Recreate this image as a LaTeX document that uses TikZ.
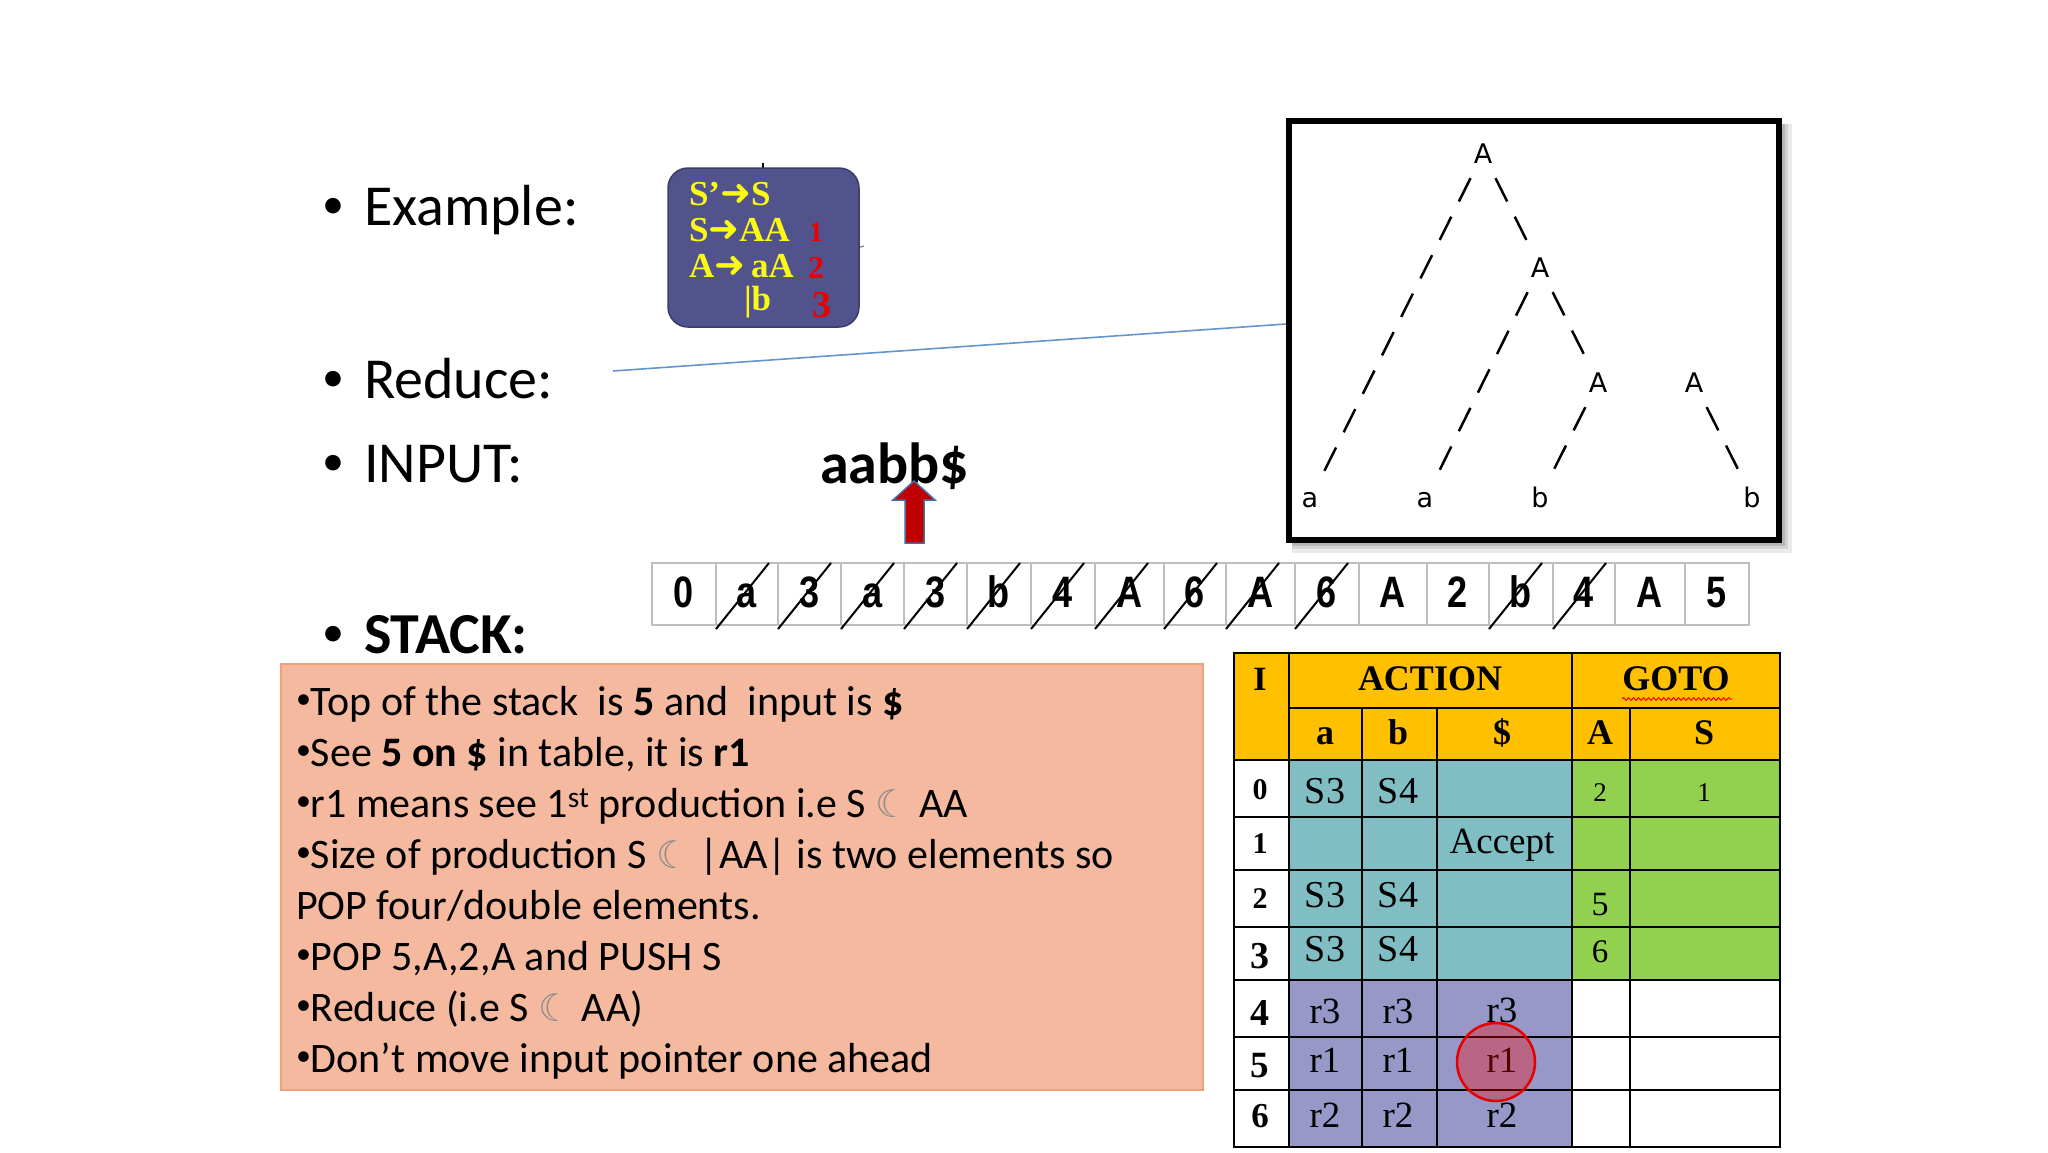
\documentclass[tikz,border=0pt]{standalone}
\usepackage{fontspec}
\setmainfont{Carlito}
\newfontfamily\serifF{Liberation Serif}
\newfontfamily\stackF[FakeStretch=0.82]{Liberation Sans}
\newfontfamily\treeF{DejaVu Sans}
\usetikzlibrary{decorations.pathmorphing,calc}
\newcommand{\setfs}[1]{\fontsize{#1}{#1}\selectfont}
\newcommand{\moon}{{\treeF\color{black!45}\fontsize{38}{38}\selectfont ☾}}
\newcommand{\sbul}{\raisebox{7pt}{\fontsize{30}{30}\selectfont •}}
\newcommand{\garr}{{\treeF\bfseries\fontsize{37}{37}\selectfont ➜}}
\definecolor{gfill}{RGB}{82,82,140}
\definecolor{gbord}{RGB}{58,60,105}
\definecolor{gyel}{RGB}{250,250,20}
\definecolor{gred}{RGB}{235,0,0}
\definecolor{bline}{RGB}{100,150,205}
\definecolor{salfill}{RGB}{245,185,160}
\definecolor{salbord}{RGB}{240,160,125}
\definecolor{hdr}{RGB}{255,192,0}
\definecolor{teal}{RGB}{128,190,196}
\definecolor{grn}{RGB}{146,208,80}
\definecolor{lav}{RGB}{152,152,200}
\definecolor{arred}{RGB}{192,0,0}
\definecolor{arblue}{RGB}{70,110,160}
\definecolor{cellgray}{RGB}{190,190,190}
\begin{document}
\begin{tikzpicture}[x=1pt,y=-1pt,
  every node/.style={inner sep=0pt,outer sep=0pt},
  slide/.style={anchor=base west,font={\setfs{58}}},
  bul/.style={anchor=base,font={\setfs{44}}},
  gtext/.style={anchor=base west,text=gyel,font={\serifF\bfseries\setfs{35}}},
  rnum/.style={anchor=base west,text=gred,font={\serifF\bfseries\setfs{#1}}},
  tl/.style={anchor=base,font={\treeF\setfs{27}}},
  tedge/.style={line width=2.5pt,dash pattern=on 26pt off 17pt,shorten <=28pt,shorten >=30pt},
  stackcell/.style={draw=cellgray,line width=2pt},
  stacktext/.style={anchor=base,font={\stackF\bfseries\setfs{44}}},
  strike/.style={line width=2pt},
  saltext/.style={anchor=base west,font={\setfs{42}}},
  thead/.style={anchor=base,font={\serifF\bfseries\setfs{36}}},
  tcell/.style={anchor=base,font={\serifF\setfs{#1}}},
  tlab/.style={anchor=base,font={\serifF\bfseries\setfs{#1}}},
  tline/.style={line width=2.5pt}
]
\useasboundingbox (0,0) rectangle (2048,1152);
\fill[white] (0,0) rectangle (2048,1152);

% ---------- left bullets ----------
\node[bul] (bu1) at (333,218) {•};
\node[slide] (ex) at (364,225) {Example:};
\node[bul] (bu2) at (333,391) {•};
\node[slide] (red) at (364,398) {Reduce:};
\node[bul] (bu3) at (333,475) {•};
\node[slide] (inp) at (364,482) {INPUT:};
\node[bul] (bu4) at (333,646) {•};
\node[slide,font={\bfseries\setfs{58}}] (stk) at (364,653) {STACK:};
\node[slide,font={\bfseries\setfs{58}}] (instr) at (820,483) {aabb\$};

% ---------- grammar box ----------
\draw[line width=2pt] (763,163) -- (763,169);
\draw[line width=1pt,black!60] (857,248) -- (864,246);
\node[draw=gbord,fill=gfill,line width=1.5pt,rounded corners=20pt,minimum width=191pt,minimum height=159pt,anchor=north west] (gram) at (668,168) {};
\node[gtext] (g1) at (689,205) {S’\garr S};
\node[gtext] (g2) at (689,241) {S\garr AA};
\node[gtext] (g3) at (689,277) {A\garr\,aA};
\node[gtext] (g4) at (744,310) {|b};
\node[rnum=28] (n1) at (809,241) {1};
\node[rnum=32] (n2) at (808,278) {2};
\node[rnum=38] (n3) at (812,317) {3};

% ---------- tree box ----------
\fill[black,opacity=0.08] (1292,124) rectangle (1792,553);
\fill[black,opacity=0.10] (1292,124) rectangle (1788,549);
\fill[black,opacity=0.14] (1292,124) rectangle (1785,546);
\node[draw,fill=white,line width=6pt,minimum width=490pt,minimum height=419pt,anchor=north west] (tree) at (1289,121) {};
\coordinate (bl1) at (613,371);
\coordinate (bl2) at (1286,324);
\draw[bline,line width=1.6pt] (bl1) -- (bl2);
\node[tl] (A1) at (1483,163) {A};
\node[tl] (A2) at (1540,277) {A};
\node[tl] (A3) at (1598,392) {A};
\node[tl] (A4) at (1694,392) {A};
\node[tl] (l1) at (1310,507) {a};
\node[tl] (l2) at (1425,507) {a};
\node[tl] (l3) at (1540,507) {b};
\node[tl] (l4) at (1752,507) {b};
\draw[tedge] (A1.center) -- (l1.center);
\draw[tedge] (A1.center) -- (A2.center);
\draw[tedge] (A2.center) -- (l2.center);
\draw[tedge] (A2.center) -- (A3.center);
\draw[tedge] (A3.center) -- (l3.center);
\draw[tedge] (A4.center) -- (l4.center);

% ---------- pointer arrow ----------
\draw[fill=arred,draw=arblue,line width=1.5pt,line join=miter] (914,481) -- (935,500) -- (924,500) -- (924,543) -- (905,543) -- (905,500) -- (893,500) -- cycle;

% ---------- stack ----------
\foreach \i/\l/\r/\t/\s in {0/652/716/0/0,1/716/778/a/1,2/778/841/3/1,3/841/904/a/1,4/904/967/3/1,5/967/1031/b/1,6/1031/1095/4/1,7/1095/1164/A/1,8/1164/1226/6/1,9/1226/1295/A/1,10/1295/1359/6/1,11/1359/1427/A/0,12/1427/1489/2/0,13/1489/1553/b/1,14/1553/1615/4/1,15/1615/1685/A/0,16/1685/1749/5/0}{
  \draw[stackcell] (\l,563) rectangle (\r,625);
  \node[stacktext] (s\i) at ({(\l+\r)/2},607) {\t};
  \ifnum\s=1 \draw[strike] (\l,629) -- ({\l+53},563);\fi
}

% ---------- salmon box ----------
\node[draw=salbord,fill=salfill,line width=1.5pt,minimum width=922pt,minimum height=426pt,anchor=north west] (sal) at (281,664) {};
\node[saltext] (t1) at (296,715) {\sbul Top of the stack\ \ is \textbf{5} and\ \ input is \textbf{\$}};
\node[saltext] (t2) at (296,766) {\sbul See \textbf{5 on \$} in table, it is \textbf{r1}};
\node[saltext] (t3) at (296,817) {\sbul r1 means see 1\textsuperscript{st} production i.e S \moon\ AA};
\node[saltext] (t4) at (296,868) {\sbul Size of production S \moon\ |AA| is two elements so};
\node[saltext] (t5) at (296,919) {POP four/double elements.};
\node[saltext] (t6) at (296,970) {\sbul POP 5,A,2,A and PUSH S};
\node[saltext] (t7) at (296,1021) {\sbul Reduce (i.e S \moon\ AA)};
\node[saltext] (t8) at (296,1072) {\sbul Don’t move input pointer one ahead};

% ---------- parsing table ----------
\fill[hdr] (1234,653) rectangle (1780,760);
\fill[teal] (1289,760) rectangle (1572,980);
\fill[grn] (1572,760) rectangle (1780,980);
\fill[lav] (1289,980) rectangle (1572,1147);
\draw[tline] (1234,653) rectangle (1780,1147);
\draw[tline] (1289,708) -- (1780,708);
\foreach \yy in {760,817,870,927,980,1037,1090} {\draw[tline] (1234,\yy) -- (1780,\yy);}
\draw[tline] (1289,653) -- (1289,1147);
\draw[tline] (1572,653) -- (1572,1147);
\draw[tline] (1362,708) -- (1362,1147);
\draw[tline] (1437,708) -- (1437,1147);
\draw[tline] (1630,708) -- (1630,1147);

\node[thead,font={\serifF\bfseries\setfs{34}}] (hI) at (1260,690) {I};
\node[thead] (hact) at (1430,690) {ACTION};
\node[thead] (hgoto) at (1676,690) {GOTO};
\draw[red,line width=1pt,decorate,decoration={snake,amplitude=1.4pt,segment length=5pt}] (1622,699) -- (1732,699);
\node[thead] (ha) at (1325,744) {a};
\node[thead] (hb) at (1398,744) {b};
\node[thead] (hd) at (1502,744) {\$};
\node[thead] (hA) at (1600,744) {A};
\node[thead] (hS) at (1704,744) {S};

\node[tlab=30] (r0) at (1260,799) {0};
\node[tlab=30] (r1) at (1260,853) {1};
\node[tlab=30] (r2) at (1260,908) {2};
\node[tlab=38] (r3) at (1260,968) {3};
\node[tlab=38] (r4) at (1260,1025) {4};
\node[tlab=37] (r5) at (1260,1077) {5};
\node[tlab=35] (r6) at (1260,1127) {6};

\node[tcell=38] (c01) at (1325,803) {S3};
\node[tcell=38] (c02) at (1398,803) {S4};
\node[tcell=27] (c04) at (1600,801) {2};
\node[tcell=27] (c05) at (1704,801) {1};
\node[tcell=37] (c13) at (1502,853) {Accept};
\node[tcell=38] (c21) at (1325,907) {S3};
\node[tcell=38] (c22) at (1398,907) {S4};
\node[tcell=34] (c24) at (1600,915) {5};
\node[tcell=38] (c31) at (1325,961) {S3};
\node[tcell=38] (c32) at (1398,961) {S4};
\node[tcell=33] (c34) at (1600,962) {6};
\node[tcell=37] (c41) at (1325,1023) {r3};
\node[tcell=37] (c42) at (1398,1023) {r3};
\node[tcell=37] (c43) at (1502,1022) {r3};
\node[tcell=37] (c51) at (1325,1072) {r1};
\node[tcell=37] (c52) at (1398,1072) {r1};
\node[tcell=37] (c53) at (1502,1072) {r1};
\node[tcell=37] (c61) at (1325,1127) {r2};
\node[tcell=37] (c62) at (1398,1127) {r2};
\node[tcell=37] (c63) at (1502,1127) {r2};
\draw[red!90!black,line width=2.5pt,fill=red,fill opacity=0.33] (1496,1062) circle (39pt);
\end{tikzpicture}
\end{document}
